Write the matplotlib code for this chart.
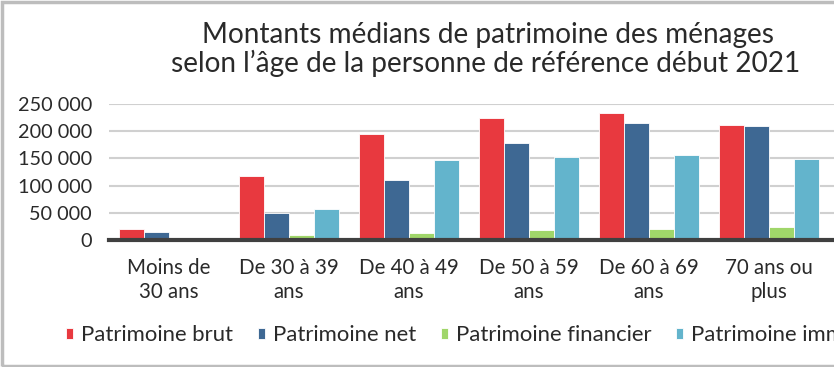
import matplotlib.pyplot as plt
import numpy as np
from matplotlib.patches import Rectangle
from matplotlib.ticker import FuncFormatter

categories = ["Moins de\n30 ans", "De 30 à 39\nans", "De 40 à 49\nans",
              "De 50 à 59\nans", "De 60 à 69\nans", "70 ans ou\nplus"]
brut = [20000, 117000, 195000, 224000, 233000, 211000]
net = [14000, 49000, 110000, 178000, 214500, 209000]
financier = [1500, 8600, 12000, 17800, 19700, 23300]
immobilier = [0, 57000, 146500, 153000, 155600, 149500]
series_names = ["Patrimoine brut", "Patrimoine net", "Patrimoine financier",
                "Patrimoine immobilier"]
colors = ["#E8393F", "#3E6893", "#A0D66A", "#63B4CC"]
title_lines = ["Montants médians de patrimoine des ménages",
               "selon l\u2019âge de la personne de référence début 2021"]

plt.rcParams['font.family'] = ['Lato', 'DejaVu Sans']
txt_col = "#2a2a2a"

fig = plt.figure(figsize=(8.34, 3.67), dpi=100)
# axes runs off the right edge, like the cropped original
ax = fig.add_axes([108.5 / 834, 1 - 240 / 367, 1 - 108.5 / 834, 136 / 367])

x = np.arange(len(categories))
w = 25 / 120
for k, (vals, name, col) in enumerate(zip([brut, net, financier, immobilier],
                                          series_names, colors)):
    ax.bar(x + (k - 1.5) * w, vals, width=w, color=col, edgecolor="white",
           linewidth=0.6, label=name, zorder=3)

ax.set_ylim(0, 250000)
ax.set_xlim(-0.5, -0.5 + (834 - 108.5) / 120)
ax.set_yticks(np.arange(0, 250001, 50000))
ax.yaxis.set_major_formatter(FuncFormatter(lambda v, p: f"{int(v):,}".replace(",", " ")))
ax.grid(axis="y", color="#D0D0D0", linewidth=1.5, zorder=0)
for s in ["top", "right", "left"]:
    ax.spines[s].set_visible(False)
ax.spines["bottom"].set_color("#404040")
ax.spines["bottom"].set_linewidth(3)
ax.spines["bottom"].set_zorder(4)
ax.set_xticks(x)
ax.set_xticklabels(categories, fontsize=14.8, color=txt_col, linespacing=1.25)
ax.tick_params(axis="both", length=0)
ax.tick_params(axis="x", pad=13)
ax.tick_params(axis="y", labelsize=14.3, labelcolor=txt_col, pad=12)

fig.text(488 / 834, 1 - 43.5 / 367, title_lines[0], ha="center", va="baseline",
         fontsize=20.2, color=txt_col)
fig.text(486 / 834, 1 - 72 / 367, title_lines[1], ha="center", va="baseline",
         fontsize=20.2, color=txt_col)

leg = fig.legend(loc="center left", bbox_to_anchor=(66 / 834, 1 - 335 / 367),
                 ncol=4, frameon=False, fontsize=15.9, handlelength=0.32,
                 handleheight=0.39, handletextpad=0.38, columnspacing=1.1,
                 borderaxespad=0, borderpad=0)
for t in leg.get_texts():
    t.set_color(txt_col)

fig.patches.append(Rectangle((1.5 / 834, 1.5 / 367), 1.2, 1 - 3 / 367,
                             transform=fig.transFigure, fill=False,
                             edgecolor="#BDBDBD", linewidth=2.5))

fig.savefig("out.png", dpi=100)
